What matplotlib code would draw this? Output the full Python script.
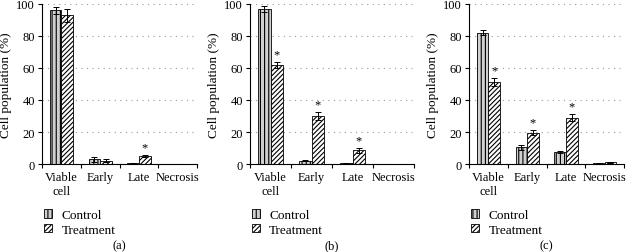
import numpy as np
import matplotlib.pyplot as plt

plt.rcParams['font.family'] = ['Liberation Serif', 'DejaVu Serif']
plt.rcParams['hatch.linewidth'] = 0.8

categories = ['Viable\ncell', 'Early', 'Late', 'Necrosis']
panels = ['(a)', '(b)', '(c)']

control = [
    [96, 3, 0.7, 0.2],
    [97, 2, 0.7, 0.2],
    [82, 10.5, 7.5, 0.5],
]
control_err = [
    [2, 1.5, 0.2, 0.1],
    [2, 0.3, 0.2, 0.1],
    [1.5, 1.5, 0.4, 0.1],
]
treatment = [
    [93, 2, 5, 0.2],
    [62, 30, 8.5, 0.2],
    [51, 19.5, 29, 1.0],
]
treatment_err = [
    [4, 1, 0.5, 0.1],
    [2, 2.5, 1.5, 0.1],
    [2.5, 1.5, 2, 0.3],
]
signif = [
    [False, False, True, False],
    [True, True, True, False],
    [True, True, True, False],
]

fig = plt.figure(figsize=(6.26, 2.53), dpi=100)
# axes boxes in pixels (left, right)
boxes = [(42, 197), (250, 414), (469, 624)]
W, H = 626, 253
bottom_px, top_px = 165, 5

x = np.arange(len(categories))
w = 0.3
for i in range(3):
    l, r = boxes[i]
    ax = fig.add_axes([l / W, 1 - bottom_px / H, (r - l) / W, (bottom_px - top_px) / H])
    ax.bar(x - w / 2, control[i], w, yerr=control_err[i], color='#d0d0d0',
           edgecolor='black', hatch='||||', linewidth=0.6, label='Control',
           error_kw=dict(elinewidth=0.7, capsize=2.5, capthick=0.7))
    ax.bar(x + w / 2, treatment[i], w, yerr=treatment_err[i], color='white',
           edgecolor='black', hatch='///////', linewidth=0.6, label='Treatment',
           error_kw=dict(elinewidth=0.7, capsize=2.5, capthick=0.7))
    for j in range(len(categories)):
        if signif[i][j]:
            ax.text(x[j] + w / 2, treatment[i][j] + treatment_err[i][j] + 1, '*',
                    ha='center', va='bottom', fontsize=9)
    ax.set_xlim(-0.5, len(categories) - 0.5)
    ax.set_ylim(0, 100)
    ax.set_yticks(np.arange(0, 101, 20))
    ax.yaxis.grid(True, linestyle=(0, (1, 4)), color='#999999', linewidth=0.8)
    ax.set_axisbelow(True)
    ax.set_xticks(x)
    ax.set_xticklabels(categories, fontsize=9)
    ax.tick_params(axis='x', length=0, pad=5)
    ax.set_xticks(np.arange(-0.5, len(categories), 1), minor=True)
    ax.tick_params(axis='x', which='minor', length=3, direction='out', width=0.8)
    ax.tick_params(axis='y', labelsize=9, length=3, width=0.8, pad=2)
    for s in ['top', 'right']:
        ax.spines[s].set_visible(False)
    for s in ['left', 'bottom']:
        ax.spines[s].set_linewidth(0.8)
    ax.set_ylabel('Cell population (%)', fontsize=9.5, labelpad=3)
    ax.legend(loc='upper left', bbox_to_anchor=(-0.02, -0.25), frameon=False,
              fontsize=9.5, handlelength=0.6, handleheight=0.6, handletextpad=0.7,
              labelspacing=0.2, borderaxespad=0)
    fig.text((l + r) / 2 / W, 1 - 246 / H, panels[i], ha='center', va='center',
             fontsize=9)

fig.savefig('out.png', dpi=100)
